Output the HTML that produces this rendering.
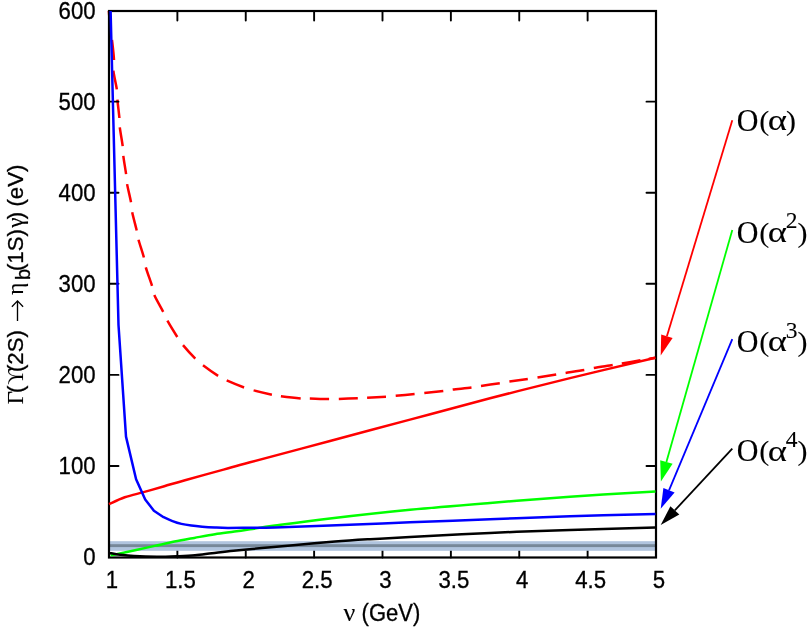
<!DOCTYPE html>
<html><head><meta charset="utf-8"><title>chart</title>
<style>html,body{margin:0;padding:0;background:#fff}svg{display:block;will-change:transform}text{font-family:"Liberation Sans",sans-serif;stroke:#000;stroke-width:.3px}.s{font-family:"Liberation Serif",serif;stroke-width:.1px}</style>
</head><body>
<svg width="810" height="629" viewBox="0 0 810 629">
<rect width="810" height="629" fill="#fff"/>
<path d="M108.8 11C109.1 14.17 110.07 25.17 110.6 30M112 40C112.57 45 113.77 54.88 114 60M113.4 70.7C113.87 75.58 116.13 84.48 116.8 89.3M117.4 99.6C117.83 104.38 119 113.37 119.4 118M119.8 127.4C120.35 132.08 122.12 141.37 122.7 146.1M123.3 155.8C123.87 160.48 125.47 169.48 126.1 174.2M127.1 184.1C127.92 188.77 130.15 197.5 131 202.2M132.2 212.3C133.15 217.02 135.65 225.92 136.7 230.5M138.5 239.8C139.7 244.3 142.68 252.9 143.9 257.5M145.8 267.4C147.15 272.12 150.58 281.18 152 285.8M154.3 295.1C156.17 299.45 161.02 307.63 163.2 311.9M167.4 320.7C169.75 324.88 174.7 332.93 177.3 337M183 345.1C186 348.7 191.97 355.23 195.3 358.6M203 365.3C206.8 368.18 214.15 373.38 218.1 375.9M226.7 380.4C231.03 382.33 239.62 385.83 244.1 387.5M253.6 390.4C258.23 391.6 267.35 393.73 271.9 394.7M280.9 396.2C285.7 396.82 295.88 398 300.7 398.4M309.8 398.6C314.53 398.72 324.27 399.05 329.1 399.1M338.8 398.9C343.58 398.77 353.08 398.48 357.8 398.3M367.1 397.8C371.8 397.53 381.23 397.03 386 396.7M395.7 395.8C400.47 395.37 409.83 394.55 414.6 394.1M424.3 393.1C429.08 392.58 438.57 391.58 443.3 391M452.7 389.6C457.4 389.02 466.78 388.12 471.5 387.5M481 385.9C485.72 385.18 495.07 383.92 499.8 383.2M509.4 381.6C514.07 380.9 523.12 379.7 527.8 379M537.5 377.4C542.23 376.63 551.52 375.15 556.2 374.4M565.6 372.9C570.28 372.17 579.6 370.8 584.3 370M593.8 368.1C598.53 367.28 608.03 365.87 612.7 365.1M621.8 363.5C626.43 362.7 636.02 361.07 640.5 360.3M648.7 358.9C651.2 358.47 654.37 357.9 655.5 357.7" fill="none" stroke="#f00" stroke-width="2.5"/>
<path d="M177.38 557.5v-9.5M177.38 11v9.5M245.75 557.5v-9.5M245.75 11v9.5M314.12 557.5v-9.5M314.12 11v9.5M382.5 557.5v-9.5M382.5 11v9.5M450.88 557.5v-9.5M450.88 11v9.5M519.25 557.5v-9.5M519.25 11v9.5M587.62 557.5v-9.5M587.62 11v9.5M109 465.97h9.5M656 465.97h-9.5M109 374.88h9.5M656 374.88h-9.5M109 283.8h9.5M656 283.8h-9.5M109 192.72h9.5M656 192.72h-9.5M109 101.63h9.5M656 101.63h-9.5" fill="none" stroke="#000" stroke-width="1.9" stroke-linecap="round"/>
<rect x="110" y="541.2" width="545.2" height="9.6" fill="#b0c4de"/>
<rect x="110" y="544.2" width="545.2" height="2.9" fill="#778899"/>
<rect x="109" y="11" width="547" height="546.5" fill="none" stroke="#000" stroke-width="2.2"/>
<path d="M109 504.2C111.62 503.05 118.83 499.35 124.75 497.3C130.67 495.25 137.91 493.75 144.5 491.9C151.09 490.05 157.55 488.15 164.3 486.2C171.05 484.25 175.13 482.97 185 480.2C194.87 477.43 212.67 472.58 223.5 469.6C234.33 466.62 232.25 467.07 250 462.3C267.75 457.53 303.33 448.12 330 441C356.67 433.88 383.33 426.72 410 419.6C436.67 412.48 463.33 405.22 490 398.3C516.67 391.38 542.42 384.87 570 378.1C597.58 371.33 641.25 361.1 655.5 357.7" fill="none" stroke="#f00" stroke-width="2.5"/>
<path d="M110.6 555.3C112.17 555 115.93 554.35 120 553.5C124.07 552.65 129.21 551.47 135 550.2C140.79 548.93 148.17 547.33 154.75 545.9C161.33 544.47 167.91 542.93 174.5 541.6C181.09 540.27 187.55 539.13 194.3 537.9C201.05 536.67 208.3 535.25 215 534.2C221.7 533.15 228.67 532.42 234.5 531.6C240.33 530.78 243.25 530.3 250 529.3C256.75 528.3 261.67 527.4 275 525.6C288.33 523.8 307.5 521.13 330 518.5C352.5 515.87 383.33 512.4 410 509.8C436.67 507.2 463.33 505.07 490 502.9C516.67 500.73 542.42 498.72 570 496.8C597.58 494.88 641.25 492.3 655.5 491.4" fill="none" stroke="#0f0" stroke-width="2.5"/>
<path d="M110.6 11L118.5 325L126 436.6L136.1 479.2L145.2 499.4L153.9 510.7L163.6 517.2L163.6 517.2C165.08 517.85 169.53 519.98 172.5 521.1C175.47 522.22 178.27 523.15 181.4 523.9C184.53 524.65 187.83 525.13 191.3 525.6C194.77 526.07 198.25 526.38 202.2 526.7C206.15 527.02 210.7 527.3 215 527.5C219.3 527.7 221.83 527.85 228 527.9C234.17 527.95 244.17 527.87 252 527.8C259.83 527.73 262 527.87 275 527.5C288 527.13 307.5 526.47 330 525.6C352.5 524.73 383.33 523.35 410 522.3C436.67 521.25 463.33 520.3 490 519.3C516.67 518.3 542.42 517.17 570 516.3C597.58 515.43 641.25 514.47 655.5 514.1" fill="none" stroke="#00f" stroke-width="2.5" stroke-linejoin="round"/>
<path d="M109.5 552.9C111.25 553.2 115.92 554.17 120 554.7C124.08 555.23 127.83 555.75 134 556.1C140.17 556.45 149.5 556.78 157 556.8C164.5 556.82 172.67 556.45 179 556.2C185.33 555.95 189.5 555.78 195 555.3C200.5 554.82 205.58 554.05 212 553.3C218.42 552.55 225.17 551.67 233.5 550.8C241.83 549.93 252.5 548.98 262 548.1C271.5 547.22 278.33 546.6 290.5 545.5C302.67 544.4 321.75 542.55 335 541.5C348.25 540.45 357.5 539.93 370 539.2C382.5 538.47 390 538.15 410 537.1C430 536.05 463.33 534.1 490 532.9C516.67 531.7 542.42 530.82 570 529.9C597.58 528.98 641.25 527.82 655.5 527.4" fill="none" stroke="#000" stroke-width="2.5"/>
<path d="M732.3 120.2L666.9 336.3" stroke="#f00" stroke-width="1.8" fill="none"/>
<path d="M660.7 355.5L661.2 334.6L672.6 338Z" fill="#f00"/>
<path d="M732.3 229.9L666.4 461.95" stroke="#0f0" stroke-width="1.8" fill="none"/>
<path d="M660.9 481.5L660.2 460.2L672.6 463.7Z" fill="#0f0"/>
<path d="M732.3 339.1L669 490.3" stroke="#00f" stroke-width="1.8" fill="none"/>
<path d="M660.7 508.7L663.4 488.1L674.6 492.5Z" fill="#00f"/>
<path d="M732.3 448.6L674.85 510.35" stroke="#000" stroke-width="1.8" fill="none"/>
<path d="M660.7 525.1L670.4 506.3L679.3 514.4Z" fill="#000"/>
<text transform="translate(112 588.2) scale(1 1.08)" font-size="22.2" text-anchor="middle">1</text>
<text transform="translate(180.38 588.2) scale(1 1.08)" font-size="22.2" text-anchor="middle">1.5</text>
<text transform="translate(248.75 588.2) scale(1 1.08)" font-size="22.2" text-anchor="middle">2</text>
<text transform="translate(317.12 588.2) scale(1 1.08)" font-size="22.2" text-anchor="middle">2.5</text>
<text transform="translate(385.5 588.2) scale(1 1.08)" font-size="22.2" text-anchor="middle">3</text>
<text transform="translate(453.88 588.2) scale(1 1.08)" font-size="22.2" text-anchor="middle">3.5</text>
<text transform="translate(522.25 588.2) scale(1 1.08)" font-size="22.2" text-anchor="middle">4</text>
<text transform="translate(590.62 588.2) scale(1 1.08)" font-size="22.2" text-anchor="middle">4.5</text>
<text transform="translate(659 588.2) scale(1 1.08)" font-size="22.2" text-anchor="middle">5</text>
<text transform="translate(95.6 565.4) scale(1 1.08)" font-size="22.2" text-anchor="end">0</text>
<text transform="translate(95.6 474.32) scale(1 1.08)" font-size="22.2" text-anchor="end">100</text>
<text transform="translate(95.6 383.23) scale(1 1.08)" font-size="22.2" text-anchor="end">200</text>
<text transform="translate(95.6 292.15) scale(1 1.08)" font-size="22.2" text-anchor="end">300</text>
<text transform="translate(95.6 201.07) scale(1 1.08)" font-size="22.2" text-anchor="end">400</text>
<text transform="translate(95.6 109.98) scale(1 1.08)" font-size="22.2" text-anchor="end">500</text>
<text transform="translate(95.6 18.9) scale(1 1.08)" font-size="22.2" text-anchor="end">600</text>
<text class="s" x="343.4" y="620.5" font-size="26">ν</text>
<text transform="translate(361.6 620.6) scale(1 1.05)" font-size="22">(GeV)</text>
<text class="s" transform="translate(23.3 404.27) rotate(-90)" font-size="23">Γ</text>
<text transform="translate(23.3 392.88) rotate(-90)" font-size="22.2">(</text>
<text class="s" transform="translate(23.3 384.65) rotate(-90) scale(0.94 1)" font-size="23">ϒ</text>
<text transform="translate(23.3 372.08) rotate(-90)" font-size="22.2">(2S)</text>
<path d="M17.5 321.1V301.2M11.9 306.8L17.5 300.9L23.1 306.8" fill="none" stroke="#000" stroke-width="1.35"/>
<text class="s" transform="translate(23.3 294.87) rotate(-90)" font-size="23">η</text>
<text transform="translate(30 280.08) rotate(-90)" font-size="20">b</text>
<text transform="translate(23.3 271.08) rotate(-90)" font-size="22.2">(1S)</text>
<text class="s" transform="translate(23.3 227.68) rotate(-90)" font-size="23">γ</text>
<text transform="translate(23.3 219.33) rotate(-90)" font-size="22.2">)</text>
<text transform="translate(23.3 206.58) rotate(-90)" font-size="22.2">(eV)</text>
<text class="s" transform="translate(736.87 130.7) scale(1 1.06)" font-size="30">O</text>
<text class="s" transform="translate(759.18 129.7) scale(1 0.91)" font-size="30">(</text>
<text class="s" transform="translate(767.71 130.4) scale(1.22 1)" font-size="30">α</text>
<text class="s" transform="translate(785.94 129.7) scale(1 0.91)" font-size="30">)</text>
<text class="s" transform="translate(736.87 242.5) scale(1 1.06)" font-size="30">O</text>
<text class="s" transform="translate(759.18 241.5) scale(1 0.91)" font-size="30">(</text>
<text class="s" transform="translate(767.71 242.2) scale(1.22 1)" font-size="30">α</text>
<text class="s" x="785.87" y="228.3" font-size="23.5">2</text>
<text class="s" transform="translate(797.54 241.5) scale(1 0.91)" font-size="30">)</text>
<text class="s" transform="translate(736.87 351.7) scale(1 1.06)" font-size="30">O</text>
<text class="s" transform="translate(759.18 350.7) scale(1 0.91)" font-size="30">(</text>
<text class="s" transform="translate(767.71 351.4) scale(1.22 1)" font-size="30">α</text>
<text class="s" x="785.77" y="337.5" font-size="23.5">3</text>
<text class="s" transform="translate(797.54 350.7) scale(1 0.91)" font-size="30">)</text>
<text class="s" transform="translate(736.87 461.4) scale(1 1.06)" font-size="30">O</text>
<text class="s" transform="translate(759.18 460.4) scale(1 0.91)" font-size="30">(</text>
<text class="s" transform="translate(767.71 461.1) scale(1.22 1)" font-size="30">α</text>
<text class="s" x="785.63" y="447.2" font-size="23.5">4</text>
<text class="s" transform="translate(797.54 460.4) scale(1 0.91)" font-size="30">)</text>
</svg></body></html>
